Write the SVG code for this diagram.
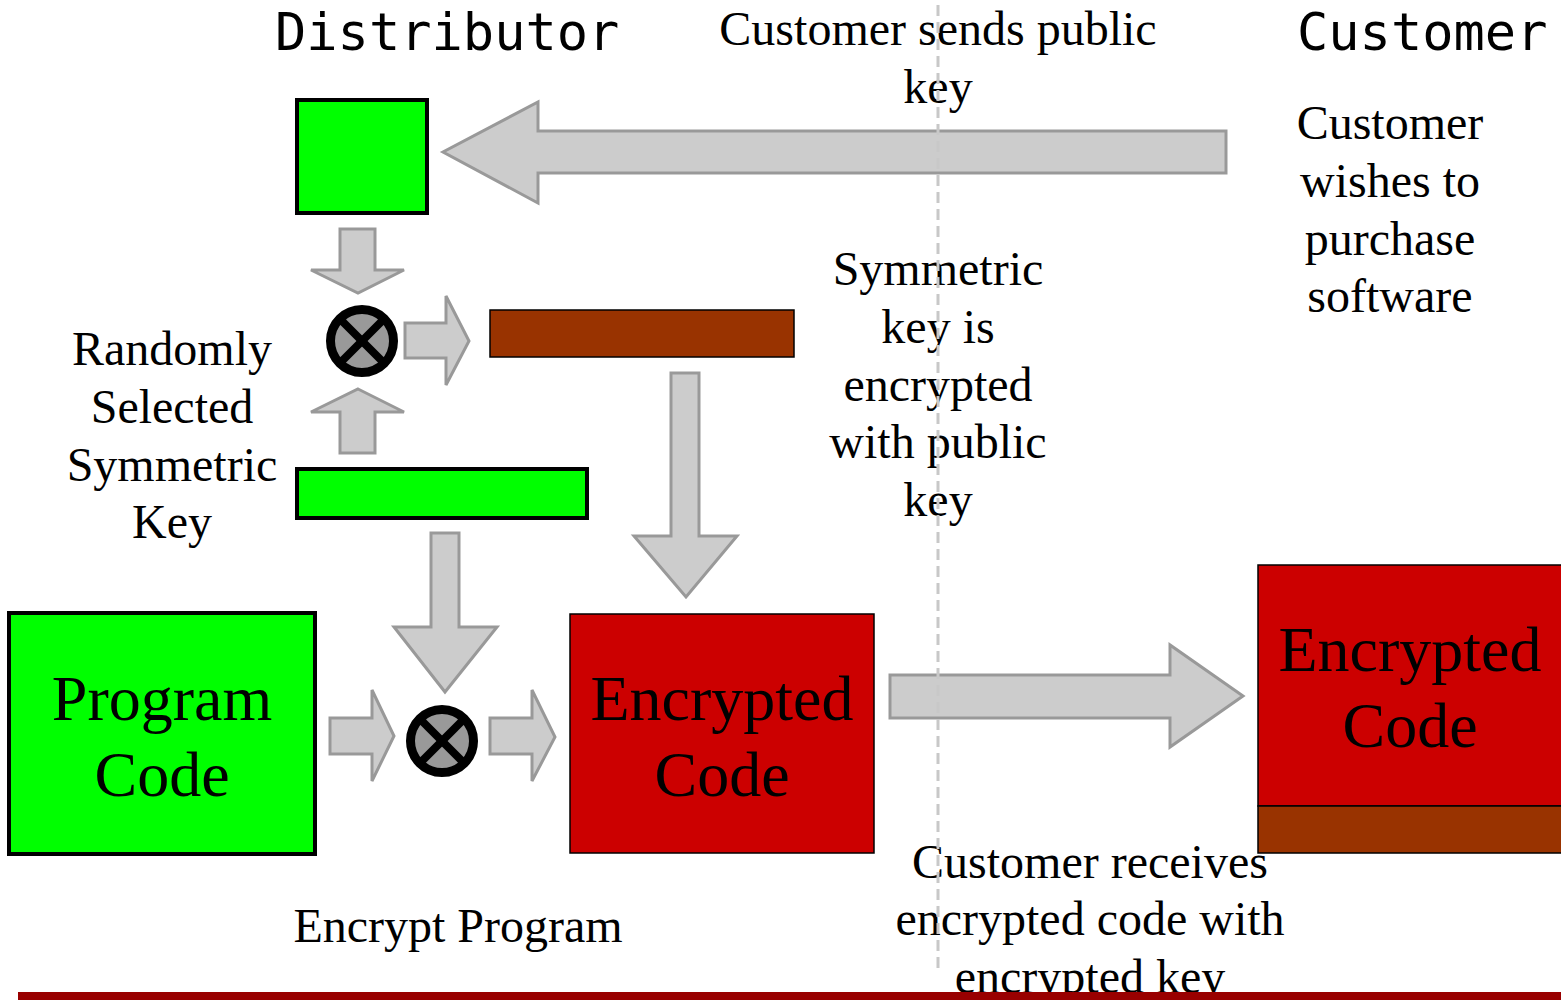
<svg xmlns="http://www.w3.org/2000/svg" width="1561" height="1000" viewBox="0 0 1561 1000">
  <defs>
    <style>
      .title { font-family: "DejaVu Sans Mono", "Liberation Mono", monospace; font-size: 52px; fill: #000; }
      .lbl { font-family: "Liberation Serif", "Times New Roman", serif; font-size: 48px; fill: #000; text-anchor: middle; }
      .big { font-family: "Liberation Serif", "Times New Roman", serif; font-size: 64px; fill: #000; text-anchor: middle; }
      .arrow { fill: #cccccc; stroke: #999999; stroke-width: 3; stroke-linejoin: miter; }
      .green { fill: #00ff00; stroke: #000; stroke-width: 4; }
      .red { fill: #cc0000; stroke: #000; stroke-width: 1.5; }
      .brown { fill: #993300; stroke: #000; stroke-width: 1.5; }
      .mix-ring { fill: #999999; stroke: #000; stroke-width: 9; }
      .mix-x { stroke: #000; stroke-width: 8; }
      .divider { stroke: #c8c8c8; stroke-width: 3; stroke-dasharray: 11 6; fill: none; }
    </style>
    <g id="mixer">
      <circle class="mix-ring" cx="0" cy="0" r="31.5"/>
      <line class="mix-x" x1="-22" y1="-22" x2="22" y2="22"/>
      <line class="mix-x" x1="22" y1="-22" x2="-22" y2="22"/>
    </g>
  </defs>

  <rect width="1561" height="1000" fill="#fff"/>

  <!-- column headings -->
  <text class="title" x="275" y="50">Distributor</text>
  <text class="title" x="1297" y="50">Customer</text>

  <!-- nodes -->
  <g id="public-key">
    <rect class="green" x="297" y="100" width="130" height="113"/>
  </g>
  <g id="mixer-key">
    <use href="#mixer" x="362" y="341"/>
  </g>
  <g id="encrypted-key">
    <rect class="brown" x="490" y="310" width="304" height="47"/>
  </g>
  <g id="symmetric-key">
    <rect class="green" x="297" y="469" width="290" height="49"/>
  </g>
  <g id="program-code">
    <rect class="green" x="9" y="613" width="306" height="241"/>
    <text class="big" x="162" y="720">Program</text>
    <text class="big" x="162" y="796">Code</text>
  </g>
  <g id="mixer-code">
    <use href="#mixer" x="442" y="741"/>
  </g>
  <g id="encrypted-code">
    <rect class="red" x="570" y="614" width="304" height="239"/>
    <text class="big" x="722" y="720">Encrypted</text>
    <text class="big" x="722" y="796">Code</text>
  </g>
  <g id="delivered-package">
    <rect class="red" x="1258" y="565" width="306" height="241"/>
    <rect class="brown" x="1258" y="806" width="306" height="47"/>
    <text class="big" x="1410" y="671">Encrypted</text>
    <text class="big" x="1410" y="747">Code</text>
  </g>

  <!-- block arrows -->
  <g id="connectors">
    <polygon class="arrow" points="1226,131 538,131 538,102 443,152 538,203 538,173 1226,173"/>
    <polygon class="arrow" points="340,229 375,229 375,270 404,270 358,293 311,270 340,270"/>
    <polygon class="arrow" points="405,323 446,323 446,296 469,341 446,385 446,358 405,358"/>
    <polygon class="arrow" points="358,389 404,412 375,412 375,453 340,453 340,412 311,412"/>
    <polygon class="arrow" points="671,373 699,373 699,536 737,536 686,597 634,536 671,536"/>
    <polygon class="arrow" points="431,533 459,533 459,627 497,627 445,692 394,627 431,627"/>
    <polygon class="arrow" points="330,718 372,718 372,690 394,736 372,781 372,754 330,754"/>
    <polygon class="arrow" points="490,718 532,718 532,690 555,737 532,781 532,754 490,754"/>
    <polygon class="arrow" points="890,675 1170,675 1170,645 1243,696 1170,747 1170,718 890,718"/>
  </g>

  <!-- captions -->
  <text class="lbl" x="938" y="45">Customer sends public</text>
  <text class="lbl" x="938" y="103">key</text>

  <text class="lbl" x="1390" y="139">Customer</text>
  <text class="lbl" x="1390" y="197">wishes to</text>
  <text class="lbl" x="1390" y="255">purchase</text>
  <text class="lbl" x="1390" y="312">software</text>

  <text class="lbl" x="938" y="285">Symmetric</text>
  <text class="lbl" x="938" y="343">key is</text>
  <text class="lbl" x="938" y="401">encrypted</text>
  <text class="lbl" x="938" y="458">with public</text>
  <text class="lbl" x="938" y="516">key</text>

  <text class="lbl" x="172" y="365">Randomly</text>
  <text class="lbl" x="172" y="423">Selected</text>
  <text class="lbl" x="172" y="481">Symmetric</text>
  <text class="lbl" x="172" y="538">Key</text>

  <text class="lbl" x="458" y="942">Encrypt Program</text>

  <text class="lbl" x="1090" y="878">Customer receives</text>
  <text class="lbl" x="1090" y="935">encrypted code with</text>
  <text class="lbl" x="1090" y="993">encrypted key</text>

  <!-- boundary between distributor and customer -->
  <line class="divider" x1="938" y1="5" x2="938" y2="968"/>

  <!-- footer rule -->
  <rect x="18" y="992" width="1543" height="8" fill="#990000"/>
</svg>
